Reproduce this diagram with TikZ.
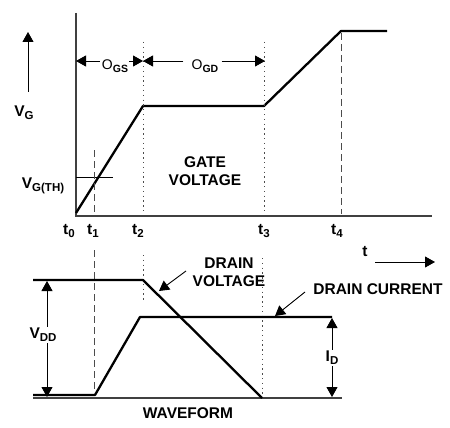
\documentclass[tikz,border=0pt]{standalone}
\usepackage{fontspec}
\setmainfont{Liberation Sans}
\usetikzlibrary{arrows.meta}
\newcommand{\sbs}[1]{\raisebox{-0.4ex}{\fontsize{11.5}{13}\selectfont #1}}
\newcommand{\ssbs}[1]{\raisebox{-0.45ex}{\fontsize{10.5}{12}\selectfont\bfseries #1}}
\begin{document}
\begin{tikzpicture}[x=1pt,y=-1pt,
  lbl/.style={font=\fontsize{15.5}{18.5}\selectfont\bfseries, inner sep=0pt, align=center},
  olbl/.style={font=\fontsize{14}{16}\selectfont, inner sep=0pt},
  wave/.style={line width=2.3pt, line join=round},
  axisline/.style={line width=1.3pt, draw=black!75},
  dashv/.style={line width=0.9pt, draw=black!70, dash pattern=on 7pt off 4pt},
  dotv/.style={line width=1pt, draw=black!70, dash pattern=on 1.3pt off 3.5pt},
  tip/.style={-{Triangle[length=10pt,width=11pt]}, line width=0.9pt}]
\useasboundingbox (0,0) rectangle (450,428);
% ---------- top graph
\coordinate (ytop) at (76,13);
\coordinate (org) at (76,216);
\coordinate (xend) at (432,216);
\draw[axisline] (ytop) -- (org) -- (xend);
\coordinate (g0) at (76,213);
\coordinate (g1) at (143,106);
\coordinate (g2) at (264,106);
\coordinate (g3) at (341,31);
\coordinate (g4) at (387,31);
\draw[wave] (g0) -- (g1) -- (g2) -- (g3) -- (g4);
% threshold
\coordinate (th0) at (76,177);
\coordinate (th1) at (113,177);
\draw[line width=0.9pt] (th0) -- (th1);
% vertical markers top
\coordinate (t1a) at (94,150); \coordinate (t1b) at (94,216);
\coordinate (t2a) at (143,42); \coordinate (t2b) at (143,214);
\coordinate (t3a) at (264,42); \coordinate (t3b) at (264,214);
\coordinate (t4a) at (341,33); \coordinate (t4b) at (341,214);
\draw[dashv] (t1a) -- (t1b);
\draw[dotv] (t2a) -- (t2b);
\draw[dotv] (t3a) -- (t3b);
\draw[dashv] (t4a) -- (t4b);
% O_GS / O_GD
\node[olbl] (ogs) at (115,66) {O\ssbs{GS}};
\node[olbl] (ogd) at (205,66) {O\ssbs{GD}};
\coordinate (ogsL) at (76,61); \coordinate (ogsR) at (143,61);
\coordinate (ogdL) at (143,61); \coordinate (ogdR) at (265,61);
\draw[tip] (ogs.west |- ogsL) ++(-2,0) -- (ogsL);
\draw[tip] (ogs.east |- ogsR) ++(1,0) -- (ogsR);
\draw[tip] (ogd.west |- ogdL) ++(-8,0) -- (ogdL);
\draw[tip] (ogd.east |- ogdR) ++(3,0) -- (ogdR);
% V_G arrow and labels
\coordinate (vga) at (28,92); \coordinate (vgb) at (28,32);
\draw[tip] (vga) -- (vgb);
\node[lbl] (vg) at (24,113) {V\sbs{G}};
\node[lbl] (vgth) at (43,186) {V\sbs{G(TH)}};
\node[lbl] (gate) at (205,171) {GATE\\VOLTAGE};
% t labels
\node[lbl] (t0) at (69,231) {t\sbs{0}};
\node[lbl] (t1) at (93,231) {t\sbs{1}};
\node[lbl] (t2) at (138,231) {t\sbs{2}};
\node[lbl] (t3) at (264,231) {t\sbs{3}};
\node[lbl] (t4) at (337,231) {t\sbs{4}};
\node[lbl] (tt) at (365,252) {t};
\coordinate (ta) at (375,262); \coordinate (tb) at (435,262);
\draw[tip] (ta) -- (tb);
% ---------- bottom graph
\coordinate (b0) at (33,398); \coordinate (b1) at (342,398);
\draw[axisline] (b0) -- (b1);
\coordinate (t1c) at (94,250); \coordinate (t1d) at (94,393);
\coordinate (t2c) at (143,255); \coordinate (t2d) at (143,300);
\coordinate (t3c) at (262,258); \coordinate (t3d) at (262,396);
\draw[dashv] (t1c) -- (t1d);
\draw[dotv] (t2c) -- (t2d);
\draw[dotv] (t3c) -- (t3d);
% drain voltage
\coordinate (dv0) at (33,280); \coordinate (dv1) at (143,280); \coordinate (dv2) at (262,398);
\draw[wave] (dv0) -- (dv1) -- (dv2);
% drain current
\coordinate (dc0) at (33,395); \coordinate (dc1) at (95,395);
\coordinate (dc2) at (140,317); \coordinate (dc3) at (332,317);
\draw[wave] (dc0) -- (dc1) -- (dc2) -- (dc3);
% V_DD
\node[lbl, fill=white, inner sep=1pt] (vdd) at (43,335) {V\sbs{DD}};
\coordinate (vddT) at (47,281); \coordinate (vddB) at (47,397);
\draw[tip] (vdd.north -| vddT) -- (vddT);
\draw[tip] (vdd.south -| vddB) -- (vddB);
% I_D
\node[lbl, inner sep=1pt] (id) at (332,358) {I\sbs{D}};
\coordinate (idT) at (332,318); \coordinate (idB) at (332,397);
\draw[tip] (id.north -| idT) -- (idT);
\draw[tip] (id.south -| idB) -- (idB);
% labels with pointers
\node[lbl] (dvl) at (229,272) {DRAIN\\VOLTAGE};
\coordinate (dvs) at (186,271); \coordinate (dvt) at (159,291);
\draw[tip] (dvs) -- (dvt);
\node[lbl] (dcl) at (378,289) {DRAIN CURRENT};
\coordinate (dcs) at (305,292); \coordinate (dct) at (275,316);
\draw[tip] (dcs) -- (dct);
\node[lbl] (wf) at (188,413) {WAVEFORM};
\end{tikzpicture}
\end{document}
